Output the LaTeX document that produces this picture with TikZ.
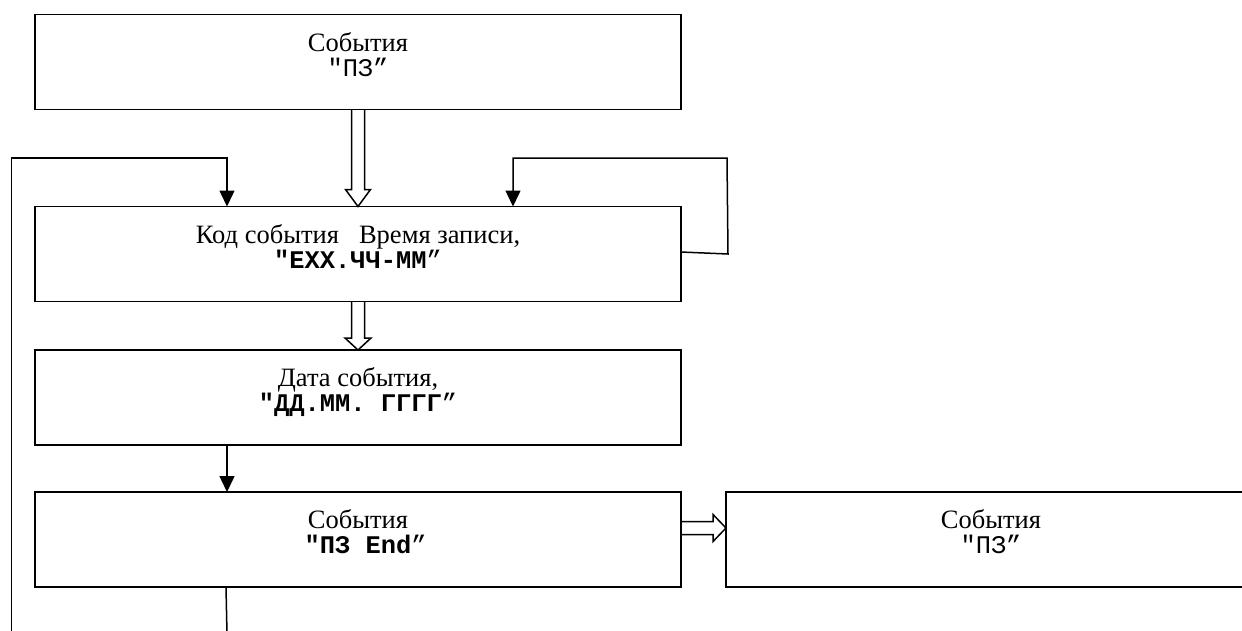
\documentclass[tikz,border=0pt]{standalone}
\usepackage{fontspec}
\setmainfont{Liberation Serif}
\setmonofont{Liberation Mono}
\usetikzlibrary{arrows.meta,calc}
\newcommand\rmtxt{\fontsize{26.5}{30}\selectfont\rmfamily}
\newcommand\mtxt{\fontsize{25.4}{30}\selectfont\ttfamily}
\newcommand\boxlines[3]{\vbox to 95pt{\offinterlineskip\hsize=#1\kern36.5pt\hbox to #1{\hss\smash{#2}\hss}\kern25pt\hbox to #1{\hss\smash{#3}\hss}\vfil}}
\tikzset{
  box/.style={draw, line width=1.8pt, inner sep=0pt, outer sep=0pt},
  conn/.style={line width=1.5pt, -{Triangle[length=16pt,width=15pt]}},
  hollow/.style={line width=1.5pt, line join=miter},
  plain/.style={line width=1.5pt}
}
\begin{document}
\begin{tikzpicture}[x=1pt,y=-1pt]
\useasboundingbox (0,0) rectangle (1242,630);
\fill[white] (0,0) rectangle (1242,630);
\clip (0,0) rectangle (1242,630);
% boxes
\node[box] (b1) at (358,62) {\boxlines{646pt}{\rmtxt События}{\mtxt"ПЗ”}};
\node[box] (b2) at (358,254) {\boxlines{646pt}{\rmtxt Код события\hspace{20pt}Время записи,}{\mtxt\bfseries"ЕХХ.ЧЧ-ММ{\mdseries”}}};
\node[box] (b3) at (358,397.5) {\boxlines{646pt}{\rmtxt Дата события,}{\mtxt\bfseries"ДД.ММ. ГГГГ{\mdseries”}}};
\node[box] (b4) at (358,539.5) {\boxlines{646pt}{\rmtxt События}{\mtxt\bfseries\ "ПЗ End{\mdseries”}}};
\node[box] (b5) at (991,539.5) {\boxlines{530pt}{\rmtxt События}{\mtxt"ПЗ”}};
% hollow arrow b1 -> b2
\draw[hollow] ($(b1.south)+(-6.5,0)$) -- ($(b2.north)+(-6.5,-17)$) -- ($(b2.north)+(-12.5,-17)$) -- (b2.north) -- ($(b2.north)+(12.5,-17)$) -- ($(b2.north)+(6.5,-17)$) -- ($(b1.south)+(6.5,0)$);
% hollow arrow b2 -> b3
\draw[hollow] ($(b2.south)+(-6.5,0)$) -- ($(b3.north)+(-6.5,-12)$) -- ($(b3.north)+(-13,-12)$) -- (b3.north) -- ($(b3.north)+(13,-12)$) -- ($(b3.north)+(6.5,-12)$) -- ($(b2.south)+(6.5,0)$);
% hollow arrow b4 -> b5
\coordinate (ra) at ($(b4.east)+(0,-11.5)$);
\coordinate (rb) at (ra -| b5.west);
\draw[hollow] ($(ra)+(0,-6.5)$) -- ($(rb)+(-13,-6.5)$) -- ($(rb)+(-13,-13.5)$) -- (rb) -- ($(rb)+(-13,13.5)$) -- ($(rb)+(-13,6.5)$) -- ($(ra)+(0,6.5)$);
% left loop
\coordinate (lb) at (11.5,634);
\coordinate (lt) at (11.5,158);
\draw[conn] (lb) -- (lt) -| ($(b2.north)+(-131,0)$);
% right loop
\coordinate (rr1) at (728,254);
\coordinate (rr2) at (727,158);
\draw[conn] ($(b2.east)+(0,-2)$) -- (rr1) -- (rr2) -| ($(b2.north)+(155,0)$);
% b3 -> b4
\draw[conn] ($(b3.south)+(-131,0)$) -- ($(b4.north)+(-131,0)$);
% b4 down
\coordinate (bend) at (227,634);
\draw[plain] ($(b4.south)+(-132,0)$) -- (bend);
\end{tikzpicture}
\end{document}
